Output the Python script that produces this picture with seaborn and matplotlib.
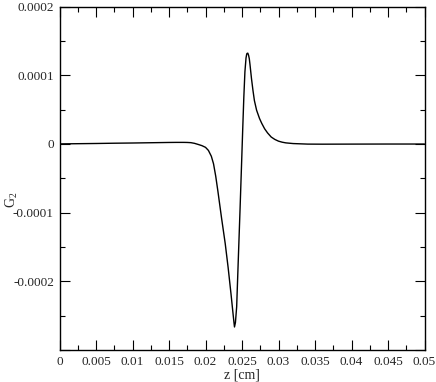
import matplotlib
matplotlib.use("Agg")
import matplotlib.pyplot as plt
import seaborn as sns
import pandas as pd
from matplotlib.ticker import FixedLocator, MultipleLocator

# Data
z_cm = [0.0, 0.0025, 0.005, 0.0075, 0.010, 0.0125, 0.015, 0.016, 0.017, 0.0175,
        0.0180, 0.0185, 0.0190, 0.0195, 0.0200, 0.0204, 0.0208, 0.0211, 0.0214,
        0.0217, 0.0222, 0.0227, 0.0231, 0.0235, 0.0238, 0.0239, 0.02397, 0.0241,
        0.02427, 0.02449, 0.02473, 0.02496, 0.0251, 0.02525, 0.0254, 0.02555,
        0.02565, 0.02573, 0.0258, 0.0259, 0.0260, 0.0261, 0.0263, 0.0265, 0.0267,
        0.0270, 0.0274, 0.0277, 0.0281, 0.0285, 0.0290, 0.0295, 0.0300, 0.0305,
        0.0310, 0.0320, 0.0340, 0.0360, 0.0400, 0.0450, 0.0500]
g2 = [0.000e-4, 0.003e-4, 0.006e-4, 0.010e-4, 0.013e-4, 0.017e-4, 0.021e-4,
      0.022e-4, 0.022e-4, 0.021e-4, 0.018e-4, 0.008e-4, -0.008e-4, -0.025e-4,
      -0.050e-4, -0.095e-4, -0.180e-4, -0.290e-4, -0.470e-4, -0.690e-4, -1.08e-4,
      -1.45e-4, -1.80e-4, -2.19e-4, -2.50e-4, -2.60e-4, -2.665e-4, -2.60e-4,
      -2.37e-4, -1.69e-4, -0.96e-4, -0.23e-4, 0.22e-4, 0.68e-4, 1.05e-4, 1.25e-4,
      1.31e-4, 1.32e-4, 1.32e-4, 1.29e-4, 1.24e-4, 1.15e-4, 0.95e-4, 0.78e-4,
      0.63e-4, 0.49e-4, 0.37e-4, 0.30e-4, 0.22e-4, 0.16e-4, 0.10e-4, 0.065e-4,
      0.04e-4, 0.025e-4, 0.015e-4, 0.005e-4, -0.003e-4, -0.004e-4, -0.003e-4,
      -0.002e-4, -0.002e-4]

x_ticks = [0, 0.005, 0.01, 0.015, 0.02, 0.025, 0.03, 0.035, 0.04, 0.045, 0.05]
x_tick_labels = ["0", "0.005", "0.01", "0.015", "0.02", "0.025", "0.03", "0.035",
                 "0.04", "0.045", "0.05"]
y_ticks = [-0.0003, -0.0002, -0.0001, 0.0, 0.0001, 0.0002]
y_tick_labels = ["", "-0.0002", "-0.0001", "0", "0.0001", "0.0002"]

sns.set_style("ticks")
plt.rcParams["font.family"] = ["Liberation Serif", "DejaVu Serif"]
plt.rcParams["mathtext.fontset"] = "custom"
plt.rcParams["mathtext.rm"] = "Liberation Serif"
plt.rcParams["mathtext.it"] = "Liberation Serif"

df = pd.DataFrame({"z": z_cm, "G2": g2})

fig = plt.figure(figsize=(4.36, 3.82), dpi=100)
ax = fig.add_axes([59.5 / 436, 1 - 350 / 382, 365 / 436, 343.5 / 382])
sns.lineplot(data=df, x="z", y="G2", ax=ax, color="black", linewidth=1.0)

ax.set_xlim(0, 0.05)
ax.set_ylim(-0.0003, 0.0002)
ax.xaxis.set_major_locator(FixedLocator(x_ticks))
ax.set_xticklabels(x_tick_labels)
ax.xaxis.set_minor_locator(MultipleLocator(0.0025))
ax.yaxis.set_major_locator(FixedLocator(y_ticks))
ax.set_yticklabels(y_tick_labels)
ax.yaxis.set_minor_locator(MultipleLocator(0.00005))

ax.tick_params(which="both", direction="in", top=True, right=True,
               labelsize=9.5, color="black", width=0.8)
ax.tick_params(which="major", length=7.5, pad=4)
ax.tick_params(which="minor", length=3.8)
for s in ax.spines.values():
    s.set_linewidth(1.0)
    s.set_color("black")

ax.set_xlabel("z [cm]", fontsize=10, labelpad=1)
ax.set_ylabel(r"G$_2$", fontsize=10)
# place the y label like the reference (x ~ 10-19 px, y ~ 200 px)
ax.yaxis.set_label_coords((20 - 59.5) / 365, (350 - 200) / 343.5)

fig.savefig("out.png", dpi=100)
